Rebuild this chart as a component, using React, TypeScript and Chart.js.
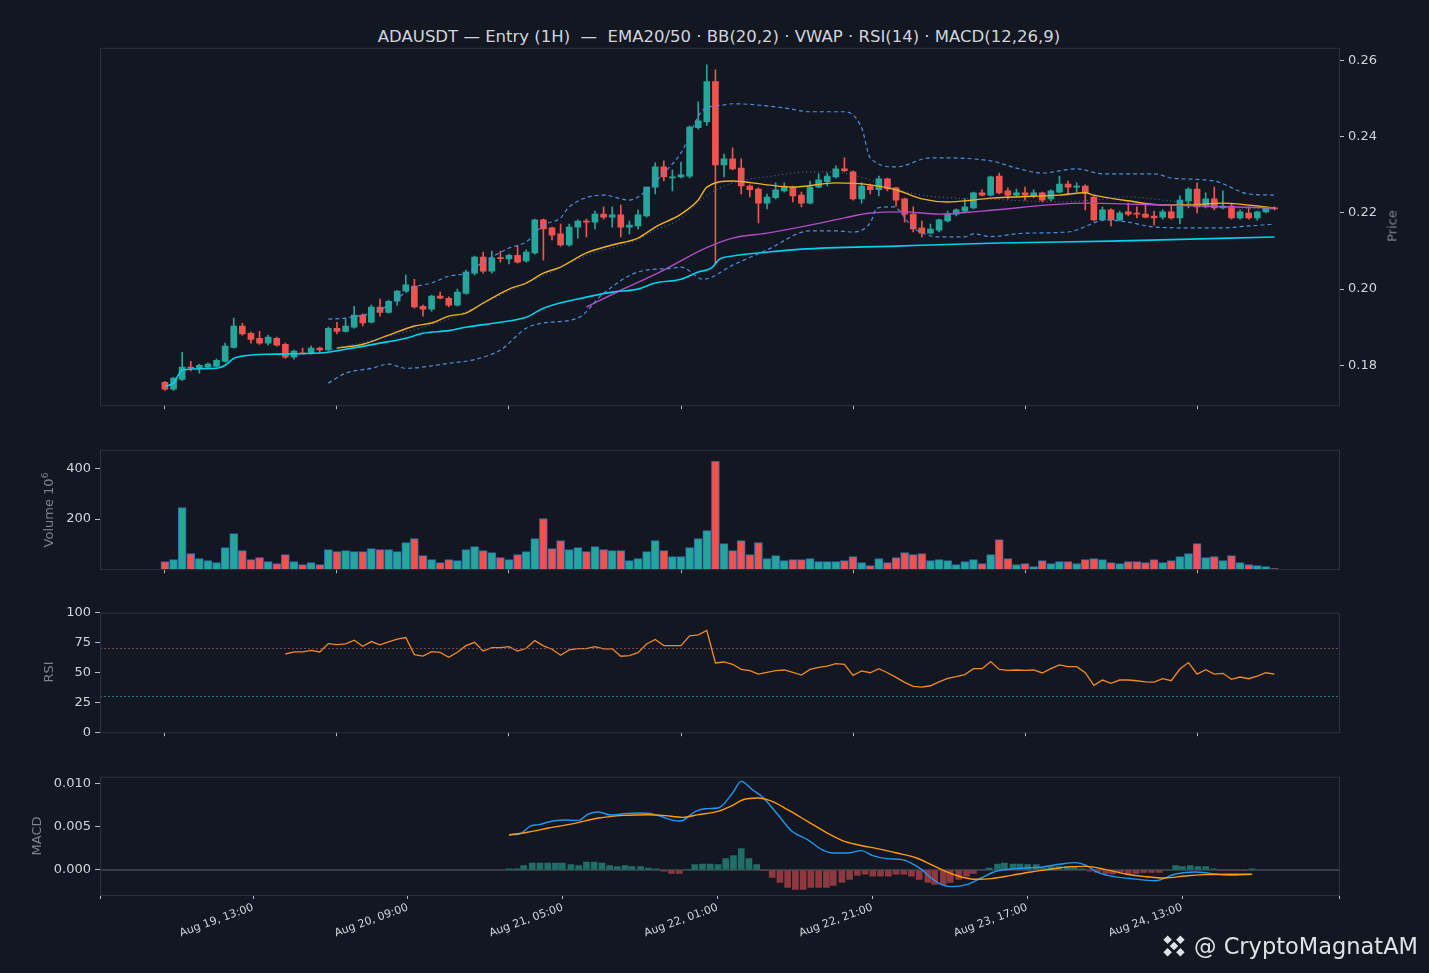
import React, { useEffect, useRef } from 'react';
import { Chart, registerables } from 'chart.js';

Chart.register(...registerables);

// price data, one entry per hourly candle (index 0..129)
const opens = [
  0.1755, 0.1737, 0.1763, 0.1795, 0.1792, 0.1795, 0.1797, 0.1810, 0.1847, 0.1903,
  0.1884, 0.1871, 0.1858, 0.1871, 0.1855, 0.1821, 0.1832, 0.1832, 0.1845, 0.1840,
  0.1897, 0.1889, 0.1900, 0.1932, 0.1913, 0.1953, 0.1939, 0.1968, 0.1995, 0.2008,
  0.1955, 0.1947, 0.1982, 0.1976, 0.1958, 0.1989, 0.2042, 0.2084, 0.2047, 0.2082,
  0.2079, 0.2089, 0.2074, 0.2095, 0.2182, 0.2161, 0.2145, 0.2116, 0.2163, 0.2179,
  0.2176, 0.2197, 0.2189, 0.2195, 0.2163, 0.2166, 0.2192, 0.2268, 0.2321, 0.2292,
  0.2295, 0.2297, 0.2424, 0.2440, 0.2545, 0.2326, 0.2342, 0.2318, 0.2271, 0.2263,
  0.2226, 0.2240, 0.2258, 0.2268, 0.2247, 0.2226, 0.2268, 0.2282, 0.2295, 0.2316,
  0.2308, 0.2237, 0.2271, 0.2261, 0.2290, 0.2266, 0.2237, 0.2197, 0.2161, 0.2147,
  0.2155, 0.2179, 0.2197, 0.2205, 0.2213, 0.2253, 0.2247, 0.2297, 0.2258, 0.2247,
  0.2253, 0.2245, 0.2253, 0.2237, 0.2255, 0.2276, 0.2268, 0.2271, 0.2242, 0.2182,
  0.2208, 0.2182, 0.2203, 0.2200, 0.2197, 0.2192, 0.2189, 0.2203, 0.2187, 0.2232,
  0.2263, 0.2216, 0.2237, 0.2213, 0.2218, 0.2187, 0.2200, 0.2187, 0.2203, 0.2213,
];
const highs = [
  0.1758, 0.1768, 0.1834, 0.1810, 0.1803, 0.1806, 0.1816, 0.1858, 0.1924, 0.1910,
  0.1887, 0.1889, 0.1879, 0.1874, 0.1858, 0.1840, 0.1845, 0.1850, 0.1848, 0.1900,
  0.1913, 0.1921, 0.1955, 0.1935, 0.1958, 0.1974, 0.1971, 0.1997, 0.2037, 0.2026,
  0.1958, 0.1984, 0.1992, 0.1980, 0.2000, 0.2050, 0.2087, 0.2097, 0.2100, 0.2100,
  0.2092, 0.2113, 0.2103, 0.2184, 0.2184, 0.2163, 0.2171, 0.2171, 0.2182, 0.2184,
  0.2205, 0.2216, 0.2216, 0.2221, 0.2179, 0.2208, 0.2268, 0.2332, 0.2337, 0.2313,
  0.2334, 0.2429, 0.2492, 0.2589, 0.2576, 0.2355, 0.2371, 0.2342, 0.2274, 0.2266,
  0.2250, 0.2279, 0.2279, 0.2271, 0.2255, 0.2284, 0.2303, 0.2305, 0.2324, 0.2345,
  0.2311, 0.2279, 0.2276, 0.2297, 0.2292, 0.2268, 0.2239, 0.2216, 0.2179, 0.2171,
  0.2184, 0.2205, 0.2211, 0.2237, 0.2255, 0.2261, 0.2297, 0.2305, 0.2266, 0.2263,
  0.2268, 0.2261, 0.2255, 0.2261, 0.2297, 0.2284, 0.2279, 0.2274, 0.2245, 0.2216,
  0.2211, 0.2205, 0.2226, 0.2216, 0.2224, 0.2205, 0.2208, 0.2218, 0.2245, 0.2266,
  0.2279, 0.2253, 0.2268, 0.2258, 0.2226, 0.2208, 0.2216, 0.2205, 0.2216, 0.2216,
];
const lows = [
  0.1734, 0.1734, 0.1760, 0.1785, 0.1779, 0.1790, 0.1795, 0.1808, 0.1845, 0.1879,
  0.1858, 0.1855, 0.1853, 0.1850, 0.1818, 0.1816, 0.1829, 0.1829, 0.1832, 0.1838,
  0.1882, 0.1887, 0.1897, 0.1903, 0.1911, 0.1929, 0.1937, 0.1958, 0.1992, 0.1950,
  0.1929, 0.1942, 0.1974, 0.1953, 0.1955, 0.1987, 0.2037, 0.2042, 0.2042, 0.2071,
  0.2066, 0.2068, 0.2071, 0.2092, 0.2076, 0.2129, 0.2113, 0.2113, 0.2134, 0.2137,
  0.2158, 0.2184, 0.2163, 0.2137, 0.2145, 0.2158, 0.2189, 0.2250, 0.2284, 0.2258,
  0.2292, 0.2292, 0.2420, 0.2430, 0.2066, 0.2295, 0.2313, 0.2250, 0.2242, 0.2174,
  0.2211, 0.2237, 0.2255, 0.2229, 0.2216, 0.2224, 0.2266, 0.2271, 0.2292, 0.2308,
  0.2234, 0.2226, 0.2250, 0.2245, 0.2258, 0.2218, 0.2176, 0.2150, 0.2137, 0.2145,
  0.2150, 0.2176, 0.2192, 0.2203, 0.2211, 0.2245, 0.2245, 0.2250, 0.2237, 0.2242,
  0.2234, 0.2240, 0.2229, 0.2232, 0.2253, 0.2250, 0.2255, 0.2208, 0.2179, 0.2179,
  0.2166, 0.2179, 0.2192, 0.2187, 0.2187, 0.2168, 0.2184, 0.2184, 0.2171, 0.2213,
  0.2200, 0.2213, 0.2208, 0.2211, 0.2184, 0.2184, 0.2184, 0.2181, 0.2200, 0.2208,
];
const closes = [
  0.1737, 0.1766, 0.1795, 0.1792, 0.1800, 0.1803, 0.1813, 0.1850, 0.1903, 0.1882,
  0.1868, 0.1858, 0.1874, 0.1853, 0.1821, 0.1837, 0.1830, 0.1845, 0.1840, 0.1897,
  0.1889, 0.1903, 0.1932, 0.1911, 0.1953, 0.1939, 0.1968, 0.1995, 0.2011, 0.1953,
  0.1947, 0.1982, 0.1976, 0.1958, 0.1992, 0.2045, 0.2084, 0.2047, 0.2082, 0.2080,
  0.2089, 0.2071, 0.2097, 0.2182, 0.2158, 0.2142, 0.2116, 0.2163, 0.2179, 0.2176,
  0.2197, 0.2189, 0.2195, 0.2163, 0.2168, 0.2195, 0.2268, 0.2321, 0.2295, 0.2295,
  0.2300, 0.2426, 0.2442, 0.2545, 0.2326, 0.2342, 0.2316, 0.2271, 0.2261, 0.2226,
  0.2242, 0.2261, 0.2268, 0.2245, 0.2226, 0.2268, 0.2287, 0.2297, 0.2316, 0.2311,
  0.2237, 0.2271, 0.2261, 0.2290, 0.2263, 0.2234, 0.2197, 0.2158, 0.2147, 0.2158,
  0.2182, 0.2197, 0.2208, 0.2216, 0.2253, 0.2247, 0.2295, 0.2253, 0.2247, 0.2253,
  0.2247, 0.2253, 0.2234, 0.2258, 0.2276, 0.2268, 0.2271, 0.2253, 0.2182, 0.2208,
  0.2182, 0.2200, 0.2197, 0.2197, 0.2189, 0.2187, 0.2203, 0.2187, 0.2234, 0.2263,
  0.2216, 0.2237, 0.2213, 0.2218, 0.2187, 0.2203, 0.2187, 0.2203, 0.2213, 0.2211,
];

// volume in millions
const volumes = [
  30, 38, 246, 62, 42, 34, 26, 86, 142, 74, 38, 46, 30, 22, 58, 30, 18, 26, 18, 78,
  70, 74, 70, 70, 82, 78, 78, 70, 106, 122, 54, 38, 26, 38, 34, 78, 90, 74, 66, 46,
  38, 58, 70, 122, 202, 82, 114, 78, 86, 70, 90, 78, 74, 74, 34, 42, 70, 114, 74, 50,
  50, 86, 122, 154, 430, 102, 74, 114, 58, 106, 42, 54, 34, 38, 38, 42, 30, 30, 30, 34,
  50, 26, 14, 42, 26, 46, 66, 58, 62, 34, 38, 34, 18, 30, 38, 22, 58, 118, 42, 18,
  22, 10, 34, 22, 30, 30, 22, 38, 42, 38, 26, 22, 30, 30, 26, 38, 26, 34, 50, 62,
  102, 46, 50, 34, 54, 26, 18, 14, 10, 2,
];

// indicator lines read as [candle index, value]
const vwapPts = [
  [0, 0.1745], [1, 0.1753], [2, 0.1787], [6, 0.1792], [7, 0.18], [8, 0.1818], [9, 0.1824],
  [12, 0.1829], [18, 0.1832], [21, 0.1842], [25, 0.1858], [28, 0.1871], [30, 0.1884],
  [33, 0.1891], [35, 0.19], [39, 0.1913], [42, 0.1926], [44, 0.195], [49, 0.1979],
  [52, 0.1992], [55, 0.2], [57, 0.2016], [60, 0.2026], [62, 0.2045], [63.5, 0.2055],
  [64.5, 0.2079], [66, 0.2087], [70, 0.2097], [74, 0.2105], [85, 0.2113], [97, 0.2121],
  [110, 0.2126], [129, 0.2137],
];
const ema20Pts = [
  [20, 0.1845], [23, 0.1855], [26, 0.1879], [29, 0.1903], [31, 0.1911], [33, 0.1929],
  [35, 0.1937], [37, 0.1963], [40, 0.2], [42, 0.2016], [44, 0.2042], [46, 0.2058],
  [49, 0.2095], [52, 0.2116], [55, 0.2134], [57, 0.2163], [60, 0.2197], [62, 0.2234],
  [63, 0.2268], [66, 0.2284], [70, 0.2274], [73, 0.2268], [78, 0.2279], [82, 0.2274],
  [85, 0.2261], [88, 0.2237], [91, 0.2229], [94, 0.2234], [96, 0.2239], [104, 0.2247],
  [107, 0.2253], [108, 0.2247], [112, 0.2232], [116, 0.2221], [119, 0.2221],
  [123, 0.2226], [129, 0.2213],
];
const ema50Pts = [
  [49, 0.1953], [53, 0.1997], [58, 0.205], [62.6, 0.2105], [66, 0.2134], [70, 0.2147],
  [75, 0.2168], [79, 0.2187], [82, 0.22], [86, 0.2203], [90, 0.2197], [95, 0.2205],
  [107, 0.2226], [116, 0.2221], [129, 0.2213],
];
const bbMidPts = [
  [19, 0.1838], [33, 0.1922], [40, 0.1995], [44, 0.2035], [49, 0.2088], [55, 0.213],
  [57, 0.2155], [60, 0.2185], [62.6, 0.2239], [66, 0.2279], [70, 0.2295], [75, 0.2308],
  [77, 0.2308], [80, 0.23], [85, 0.2263], [88, 0.2247], [92, 0.2239], [96, 0.2236],
  [104, 0.2229], [108, 0.2234], [112, 0.2242], [116, 0.2234], [119, 0.2226],
  [123, 0.2216], [129, 0.2208],
];
const bbUpperPts = [
  [19, 0.1921], [21, 0.1924], [25, 0.1945], [29, 0.2005], [31, 0.2016], [33, 0.2034],
  [35, 0.2042], [37, 0.2071], [40, 0.2108], [42, 0.2124], [44, 0.2168], [46, 0.2187],
  [47, 0.2216], [51, 0.2247], [54, 0.2234], [55, 0.2242], [58, 0.2305], [60, 0.2358],
  [62.6, 0.2471], [65, 0.2484], [66, 0.2487], [72, 0.2476], [75, 0.2466], [79, 0.2466],
  [81, 0.2424], [82, 0.2345], [85, 0.2321], [89, 0.2345], [96, 0.2337], [99, 0.2318],
  [102, 0.2305], [106, 0.2316], [109, 0.2303], [115, 0.2303], [117, 0.2292],
  [122, 0.2284], [126, 0.225], [129, 0.2247],
];
const bbLowerPts = [
  [19, 0.1753], [21, 0.1779], [24, 0.1792], [26, 0.1803], [28, 0.1792], [33, 0.1805],
  [36, 0.1815], [39, 0.184], [42, 0.1897], [44, 0.1911], [48, 0.1924], [51, 0.1989],
  [55, 0.2045], [59, 0.2055], [60, 0.2058], [62.6, 0.2026], [66, 0.2063], [70, 0.2103],
  [75, 0.2153], [78, 0.2153], [80, 0.215], [82, 0.2174], [82.8, 0.2213], [84.7, 0.2216],
  [87, 0.2161], [90, 0.2137], [93, 0.2137], [94, 0.2145], [96, 0.2138], [100, 0.2147],
  [105, 0.215], [108, 0.2174], [109, 0.2182], [112, 0.2176], [115, 0.2163],
  [119, 0.2161], [123, 0.2161], [126, 0.2166], [129, 0.2171],
];

// RSI(14), first value at candle 14
const rsiStart = 14;
const rsiValues = [
  65.5, 67.2, 67.2, 68.6, 67.2, 74.2, 73.4, 73.9, 77, 72, 75.9, 73.1, 75.6, 77.9, 79.3,
  65, 63.8, 67.5, 66.9, 62.7, 66.9, 72.5, 75.3, 68, 70.8, 70.8, 71.7, 68, 70.3, 76.7,
  72.3, 69.5, 64.4, 68.9, 70, 70, 71.7, 69.8, 69.8, 63.6, 64.2, 66.6, 73.9, 77.6, 72.5,
  72.5, 72.5, 80.7, 81.5, 85.2, 58, 58.8, 56.9, 52.6, 51.5, 48.7, 50.1, 51.5, 52.1, 50.1,
  47.9, 52.6, 54.3, 55.4, 57.4, 56.9, 47.6, 51.3, 49.8, 53.2, 49.8, 45.9, 41.7, 38.4,
  37.8, 38.9, 42.2, 45.1, 46.5, 48.2, 53.2, 53.2, 59.1, 52.6, 51.8, 52.1, 51.8, 52.1,
  49.6, 53.2, 56.3, 54.9, 54.9, 49.8, 39.2, 43.7, 40.9, 43.7, 43.7, 43.1, 42.2, 42,
  44.8, 43.1, 52.9, 58.3, 48.7, 52.4, 48.7, 49.3, 44.3, 46.2, 44.8, 47, 49.8, 48.7,
];

// MACD(12,26,9)
const macdPts = [
  [40, 0.00409], [41.2, 0.00417], [42.6, 0.00514], [43.5, 0.00525], [44.6, 0.00556],
  [46.4, 0.00579], [48.1, 0.00575], [49.2, 0.00648], [50.4, 0.00672], [51.8, 0.00637],
  [53.3, 0.00652], [55, 0.0066], [56.8, 0.00648], [57.9, 0.00614], [59.1, 0.00575],
  [59.9, 0.00567], [61.7, 0.00679], [62.8, 0.0071], [64.3, 0.00718], [66, 0.00892],
  [67, 0.01027], [68.3, 0.0093], [69.5, 0.00842], [71.2, 0.00648], [72.9, 0.00448],
  [74.7, 0.00351], [76.4, 0.00236], [77.6, 0.00197], [79.3, 0.00197], [81, 0.00224],
  [82.2, 0.0017], [83.9, 0.00131], [85.7, 0.0012], [86.8, 0.00077], [88, 0.00004],
  [89.1, -0.00093], [90.3, -0.0017], [91.4, -0.00193], [93.2, -0.0017], [94.9, -0.00093],
  [96.6, -0.00015], [98.4, 0.00012], [100.1, 0.00023], [101.8, 0.00031], [104.2, 0.00069],
  [105.9, 0.00085], [107.1, 0.00054], [108.2, -0.00015], [109.9, -0.00069],
  [112.3, -0.001], [115.2, -0.00124], [117.5, -0.00046], [119.8, -0.00023],
  [121.5, -0.00039], [123.8, -0.00062], [126.1, -0.0005],
];
const signalPts = [
  [40, 0.00405], [42.3, 0.0044], [44.6, 0.00486], [47.5, 0.00537], [50.4, 0.00602],
  [53.3, 0.00633], [56.2, 0.00641], [57.9, 0.00633], [60.2, 0.0061], [62, 0.00641],
  [64.3, 0.00679], [66, 0.00749], [67.2, 0.00814], [68.9, 0.00834], [70.6, 0.00795],
  [72.4, 0.00699], [74.7, 0.00564], [77, 0.00428], [78.7, 0.00344], [80.5, 0.00293],
  [82.8, 0.00247], [85.1, 0.00197], [87.4, 0.00139], [89.1, 0.00062], [90.9, -0.00023],
  [92.6, -0.00081], [94.3, -0.00108], [96.1, -0.001], [98.4, -0.00062], [100.7, -0.00023],
  [103, 0.00008], [105.3, 0.00039], [107.1, 0.00042], [109.4, 0.00004], [111.7, -0.00046],
  [114, -0.00077], [116.3, -0.00093], [118.6, -0.00069], [120.9, -0.00054],
  [123.8, -0.0005], [126.4, -0.0005],
];
// histogram bars as [position, value x10^-4]
const histPts = [
  [40.0, 1.2], [40.9, 1.2], [41.7, 5], [42.7, 8.1], [43.6, 8.1], [44.5, 8.1], [45.4, 8.1],
  [46.2, 8.1], [47.2, 6.2], [48.1, 5], [49.0, 9.3], [49.9, 9.3], [50.8, 8.1], [51.7, 5],
  [52.6, 3.9], [53.5, 5], [54.3, 3.9], [55.3, 3.9], [56.2, 2.3], [57.1, 1.2], [58.0, -1.5],
  [58.9, -3.9], [59.8, -3.9], [60.8, 0.3], [61.6, 6.2], [62.5, 6.9], [63.4, 6.9], [64.3, 6.2],
  [65.2, 13.1], [66.1, 16.6], [67.0, 24.7], [67.9, 13.1], [68.8, 6.2], [69.7, -0.4],
  [70.6, -8.5], [71.5, -14.3], [72.4, -20.1], [73.3, -22.4], [74.2, -22.4], [75.1, -20.1],
  [76.0, -20.1], [76.9, -20.1], [77.7, -17.8], [78.7, -14.3], [79.6, -10.8], [80.5, -6.2],
  [81.4, -5], [82.3, -7.3], [83.2, -7.3], [84.1, -7.3], [85.0, -5], [85.9, -5], [86.8, -7.3],
  [87.7, -10.8], [88.7, -14.3], [89.5, -16.6], [90.5, -16.6], [91.3, -14.3], [92.3, -10.8],
  [93.2, -7.3], [94.0, -3.9], [95.0, 0], [95.8, 2.3], [96.8, 6.9], [97.6, 8.1], [98.6, 6.9],
  [99.4, 6.9], [100.3, 6.2], [101.3, 6.2], [102.1, 2.3], [103.0, 3.9], [103.9, 3.9],
  [104.9, 3.9], [105.7, 3.9], [106.6, 1.2], [107.6, -1.5], [108.4, -2.7], [109.4, -3.9],
  [110.2, -4.6], [111.1, -2.7], [112.0, -3.9], [112.9, -3.9], [113.8, -2.7], [114.7, -2.7],
  [115.6, -2.7], [116.5, 0], [117.5, 5], [118.3, 3.9], [119.2, 5], [120.1, 3.9], [121.0, 3.9],
  [121.9, 1.2], [122.8, -0.3], [123.7, -0.8], [124.6, -0.4], [125.5, -0.4], [126.4, 1.2],
];

// bottom axis ticks (labelled) and the unlabelled ticks of the upper panels
const xTickPos = [10.25, 28.25, 46.25, 64.25, 82.25, 100.25, 118.25];
const xTickLabels = [
  'Aug 19, 13:00', 'Aug 20, 09:00', 'Aug 21, 05:00', 'Aug 22, 01:00',
  'Aug 22, 21:00', 'Aug 23, 17:00', 'Aug 24, 13:00',
];
const upperTickPos = [0, 20, 40, 60, 80, 100, 120];
const X_MIN = -7.55;
const X_MAX = 136.5;

const UP = '#26a69a';
const DOWN = '#ef5350';
const TXT = '#d1d4dc';
const FONT = "'DejaVu Sans', sans-serif";

const pts = (a: number[][]) => a.map(([x, y]) => ({ x, y }));

const frame = {
  id: 'frame',
  afterDraw(chart: any) {
    const { ctx, chartArea: a } = chart;
    ctx.save();
    ctx.strokeStyle = '#2c313c';
    ctx.lineWidth = 1;
    ctx.strokeRect(a.left + 0.5, a.top + 0.5, a.right - a.left, a.bottom - a.top);
    ctx.restore();
  },
};

function xScale(labels: boolean, height: number) {
  const tickVals = labels ? [X_MIN, ...xTickPos, X_MAX] : upperTickPos;
  return {
    type: 'linear',
    min: X_MIN,
    max: X_MAX,
    offset: false,
    afterBuildTicks: (ax: any) => {
      ax.ticks = tickVals.map((v) => ({ value: v }));
    },
    afterFit: (ax: any) => { ax.height = height; },
    grid: { offset: false, drawOnChartArea: false, drawTicks: true, tickLength: 4, color: '#b8bcc4' },
    border: { display: false },
    ticks: {
      display: labels,
      autoSkip: false,
      maxRotation: 20,
      minRotation: 20,
      color: TXT,
      font: { family: FONT, size: 11 },
      padding: 2,
      callback: (v: number) => {
        const i = xTickPos.indexOf(v);
        return i >= 0 ? xTickLabels[i] : '';
      },
    },
  };
}

function yScale(pos: string, min: number, max: number, ticks: number[], fmt: (v: number) => string, width: number) {
  return {
    position: pos,
    min,
    max,
    afterBuildTicks: (ax: any) => { ax.ticks = ticks.map((v) => ({ value: v })); },
    afterFit: (ax: any) => { ax.width = width; },
    grid: { drawOnChartArea: false, drawTicks: true, tickLength: 5, color: '#b8bcc4' },
    border: { display: false },
    ticks: { color: TXT, font: { family: FONT, size: 13 }, padding: 4, callback: (v: number) => fmt(v) },
  };
}

const common = {
  responsive: false,
  animation: false,
  events: [],
  plugins: { legend: { display: false }, tooltip: { enabled: false } },
};

function priceConfig() {
  const idx = closes.map((_, i) => i);
  const colors = idx.map((i) => (closes[i] >= opens[i] ? UP : DOWN));
  const line = (data: number[][], color: string, width: number, dash: number[] = []) => ({
    type: 'line',
    data: pts(data),
    borderColor: color,
    borderWidth: width,
    borderDash: dash,
    pointRadius: 0,
    cubicInterpolationMode: 'monotone',
    order: 0,
  });
  return {
    type: 'bar',
    data: {
      datasets: [
        { data: idx.map((i) => ({ x: i, y: [lows[i], highs[i]] })), backgroundColor: colors, barThickness: 1, grouped: false, order: 2 },
        { data: idx.map((i) => ({ x: i, y: [opens[i], closes[i]] })), backgroundColor: colors, barThickness: 6, minBarLength: 1, grouped: false, order: 1 },
        line(bbUpperPts, '#4a8fe0', 1.2, [4, 3]),
        line(bbLowerPts, '#4a8fe0', 1.2, [4, 3]),
        line(bbMidPts, '#4a78c0', 1, [1, 3]),
        line(vwapPts, '#00d2ef', 1.6),
        line(ema50Pts, '#b24cc8', 1.4),
        line(ema20Pts, '#f2b21b', 1.4),
      ],
    },
    options: {
      ...common,
      layout: { padding: { top: 8, left: 100, right: 0, bottom: 0 } },
      scales: {
        x: xScale(false, 6),
        y: yScale('right', 0.1695, 0.2634, [0.18, 0.2, 0.22, 0.24, 0.26], (v) => v.toFixed(2), 90),
      },
    },
    plugins: [frame],
  };
}

function volumeConfig() {
  const colors = closes.map((c, i) => (c >= opens[i] ? UP : DOWN));
  return {
    type: 'bar',
    data: {
      datasets: [{
        data: volumes.map((v, i) => ({ x: i, y: v })),
        backgroundColor: colors,
        borderColor: '#2a6db5',
        borderWidth: 1,
        barThickness: 8,
      }],
    },
    options: {
      ...common,
      layout: { padding: { top: 8, left: 0, right: 90, bottom: 0 } },
      scales: {
        x: xScale(false, 6),
        y: yScale('left', 0, 476, [200, 400], (v) => String(v), 100),
      },
    },
    plugins: [frame],
  };
}

function rsiConfig() {
  const level = (v: number, color: string) => ({
    type: 'line',
    data: [{ x: X_MIN, y: v }, { x: X_MAX, y: v }],
    borderColor: color,
    borderWidth: 0.8,
    borderDash: [2, 2],
    pointRadius: 0,
  });
  return {
    type: 'line',
    data: {
      datasets: [
        level(70, '#8a5560'),
        level(30, '#2a8f93'),
        {
          data: rsiValues.map((v, i) => ({ x: rsiStart + i, y: v })),
          borderColor: '#f08a24',
          borderWidth: 1.3,
          pointRadius: 0,
        },
      ],
    },
    options: {
      ...common,
      layout: { padding: { top: 8, left: 0, right: 90, bottom: 0 } },
      scales: {
        x: xScale(false, 6),
        y: yScale('left', 0, 100, [0, 25, 50, 75, 100], (v) => String(v), 100),
      },
    },
    plugins: [frame],
  };
}

function macdConfig() {
  return {
    type: 'bar',
    data: {
      datasets: [
        {
          type: 'line',
          data: [{ x: X_MIN, y: 0 }, { x: X_MAX, y: 0 }],
          borderColor: '#5d626d',
          borderWidth: 1,
          pointRadius: 0,
          order: 3,
        },
        {
          data: histPts.map(([x, v]) => ({ x, y: v / 10000 })),
          backgroundColor: histPts.map(([, v]) => (v >= 0 ? '#1f6e68' : '#8c3a40')),
          barThickness: 6,
          order: 2,
        },
        {
          type: 'line',
          data: pts(macdPts),
          borderColor: '#2496ee',
          borderWidth: 1.4,
          pointRadius: 0,
          cubicInterpolationMode: 'monotone',
          order: 1,
        },
        {
          type: 'line',
          data: pts(signalPts),
          borderColor: '#ff9a0d',
          borderWidth: 1.4,
          pointRadius: 0,
          cubicInterpolationMode: 'monotone',
          order: 0,
        },
      ],
    },
    options: {
      ...common,
      layout: { padding: { top: 8, left: 0, right: 90, bottom: 0 } },
      scales: {
        x: xScale(true, 70),
        y: yScale('left', -0.0029, 0.0108, [0, 0.005, 0.01], (v) => v.toFixed(3), 100),
      },
    },
    plugins: [frame],
  };
}

interface PanelProps {
  top: number;
  height: number;
  build: () => any;
}

const Panel: React.FC<PanelProps> = ({ top, height, build }) => {
  const ref = useRef<HTMLCanvasElement>(null);
  useEffect(() => {
    if (!ref.current) return;
    const chart = new Chart(ref.current, build());
    return () => chart.destroy();
  }, [build]);
  return (
    <canvas
      ref={ref}
      width={1429}
      height={height}
      style={{ position: 'absolute', left: 0, top, width: 1429, height }}
    />
  );
};

const axisLabel = (text: React.ReactNode, x: number, y: number, color = '#7c818c') => (
  <div
    style={{
      position: 'absolute', left: x, top: y, transform: 'translate(-50%, -50%) rotate(-90deg)',
      color, fontSize: 13, whiteSpace: 'nowrap', fontFamily: FONT,
    }}
  >
    {text}
  </div>
);

export default function App() {
  return (
    <div style={{ position: 'absolute', left: 0, top: 0, width: 1429, height: 973, background: '#131722', overflow: 'hidden', fontFamily: FONT }}>
      <div style={{ position: 'absolute', top: 27, left: 0, width: 1438, textAlign: 'center', color: TXT, fontSize: 16.5, whiteSpace: 'pre' }}>
        {'ADAUSDT — Entry (1H)  —  EMA20/50 · BB(20,2) · VWAP · RSI(14) · MACD(12,26,9)'}
      </div>
      <Panel top={36} height={381} build={priceConfig} />
      <Panel top={438} height={143} build={volumeConfig} />
      <Panel top={601} height={143} build={rsiConfig} />
      <Panel top={765} height={200} build={macdConfig} />
      {axisLabel('Price', 1392, 226)}
      {axisLabel(<span>Volume  10<sup style={{ fontSize: 9 }}>6</sup></span>, 48, 510)}
      {axisLabel('RSI', 48, 672)}
      {axisLabel('MACD', 36, 836)}
      <div style={{ position: 'absolute', left: 1160, top: 932, display: 'flex', alignItems: 'center', color: '#dfe2e6', fontSize: 22.5 }}>
        <svg width="28" height="28" viewBox="0 0 28 28" style={{ marginRight: 6 }}>
          <g fill="#dfe2e6" transform="rotate(45 14 14)">
            <rect x="11" y="11" width="6" height="6" />
            <rect x="11" y="2" width="6" height="6" />
            <rect x="11" y="20" width="6" height="6" />
            <rect x="2" y="11" width="6" height="6" />
            <rect x="20" y="11" width="6" height="6" />
          </g>
        </svg>
        <span>@ CryptoMagnatAM</span>
      </div>
    </div>
  );
}
